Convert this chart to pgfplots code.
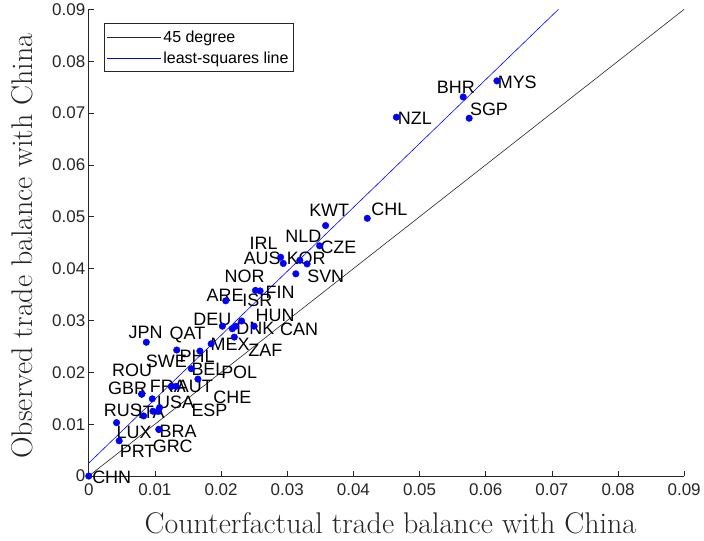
\documentclass[border=0pt]{standalone}
\usepackage{pgfplots}
\pgfplotsset{compat=1.18}
\usepackage{fontspec}
\newfontfamily\arial{Liberation Sans}
\definecolor{axgray}{gray}{0.15}
\definecolor{lsblue}{rgb}{0,0,1}
\tikzset{cl/.style={anchor=west, inner sep=0pt, font=\arial\fontsize{18}{21}\selectfont}}
\pgfplotstableread{
x y
0 0
0.0046 0.0068
0.0042 0.0103
0.0106 0.0090
0.0106 0.0090
0.0083 0.0116
0.0097 0.0125
0.0105 0.0125
0.0107 0.0132
0.0080 0.0158
0.0080 0.0158
0.0096 0.0149
0.0125 0.0173
0.0132 0.0173
0.0165 0.0187
0.0155 0.0207
0.0125 0.0173
0.0087 0.0258
0.0133 0.0243
0.0168 0.0241
0.0185 0.0255
0.0220 0.0268
0.0202 0.0289
0.0217 0.0284
0.0231 0.0299
0.0222 0.0289
0.0250 0.0289
0.0207 0.0338
0.0252 0.0358
0.0259 0.0357
0.0313 0.0390
0.0290 0.0422
0.0294 0.0410
0.0330 0.0409
0.0319 0.0416
0.0349 0.0444
0.0358 0.0483
0.0421 0.0497
0.0465 0.0692
0.0575 0.0690
0.0566 0.0731
0.0617 0.0762
}\pts
\begin{document}
\begin{tikzpicture}
\begin{axis}[name=ax, scale only axis, width=597pt, height=468pt,
 xmin=0, xmax=0.09, ymin=0, ymax=0.09,
 xtick={0,0.01,0.02,0.03,0.04,0.05,0.06,0.07,0.08,0.09},
 ytick={0,0.01,0.02,0.03,0.04,0.05,0.06,0.07,0.08,0.09},
 xticklabels={0,0.01,0.02,0.03,0.04,0.05,0.06,0.07,0.08,0.09},
 yticklabels={0,0.01,0.02,0.03,0.04,0.05,0.06,0.07,0.08,0.09},
 scaled ticks=false,
 axis lines=left, axis line style={-, axgray, line width=0.6pt},
 tick align=inside, major tick length=5pt, tick style={axgray, line width=0.6pt},
 ticklabel style={font=\arial\fontsize{17}{20}\selectfont, text=axgray},
 xticklabel style={yshift=-4pt},
 xlabel={Counterfactual trade balance with China},
 ylabel={Observed trade balance with China},
 label style={font=\fontsize{30}{34}\selectfont, text=axgray},
 xlabel style={at={(axis description cs:0.5067,-0.1015)}, anchor=center},
 ylabel style={at={(axis description cs:-0.1122,0.4925)}, anchor=center},
 clip=false,
 legend style={at={(0.0251,0.970)}, anchor=north west, draw=axgray, line width=0.6pt,
   font=\arial\fontsize{16}{19}\selectfont, inner xsep=3pt, inner ysep=5pt,
   cells={anchor=west}, row sep=4pt},
]
\addplot[color=axgray, line width=0.6pt,
  legend image code/.code={\draw[draw=axgray, line width=0.6pt] (4pt,0pt) -- (58pt,0pt);}]
  coordinates {(0,0) (0.09,0.09)};
\addlegendentry{45 degree}
\addplot[color=lsblue, line width=0.6pt,
  legend image code/.code={\draw[draw=lsblue, line width=0.6pt] (4pt,0pt) -- (58pt,0pt);}]
  coordinates {(0,0.0025) (0.071,0.09)};
\addlegendentry{least-squares line}
\addplot[only marks, mark=*, mark size=3.3pt, mark options={draw=blue, fill=blue}, forget plot] table[x=x,y=y] {\pts};
\node[cl] at (axis cs:0.0005,-0.0002) {CHN};
\node[cl] at (axis cs:0.00467,0.0048) {PRT};
\node[cl] at (axis cs:0.0042,0.0085) {LUX};
\node[cl] at (axis cs:0.00965,0.0058) {GRC};
\node[cl] at (axis cs:0.0107,0.0087) {BRA};
\node[cl] at (axis cs:0.00226,0.0127) {RUS};
\node[cl] at (axis cs:0.0074,0.0123) {ITA};
\node[cl] at (axis cs:0.0103,0.0142) {USA};
\node[cl] at (axis cs:0.0155,0.0127) {ESP};
\node[cl] at (axis cs:0.0029,0.0169) {GBR};
\node[cl] at (axis cs:0.0092,0.0173) {FRA};
\node[cl] at (axis cs:0.0133,0.0173) {AUT};
\node[cl] at (axis cs:0.0035,0.0204) {ROU};
\node[cl] at (axis cs:0.0188,0.0152) {CHE};
\node[cl] at (axis cs:0.0155,0.0206) {BEL};
\node[cl] at (axis cs:0.0200,0.0200) {POL};
\node[cl] at (axis cs:0.0086,0.0221) {SWE};
\node[cl] at (axis cs:0.0137,0.0231) {PHL};
\node[cl] at (axis cs:0.0060,0.0277) {JPN};
\node[cl] at (axis cs:0.0122,0.0273) {QAT};
\node[cl] at (axis cs:0.0184,0.0254) {MEX};
\node[cl] at (axis cs:0.0241,0.0242) {ZAF};
\node[cl] at (axis cs:0.0158,0.0302) {DEU};
\node[cl] at (axis cs:0.0223,0.0285) {DNK};
\node[cl] at (axis cs:0.0289,0.0283) {CAN};
\node[cl] at (axis cs:0.0252,0.0310) {HUN};
\node[cl] at (axis cs:0.0178,0.0348) {ARE};
\node[cl] at (axis cs:0.0232,0.0338) {ISR};
\node[cl] at (axis cs:0.0267,0.0354) {FIN};
\node[cl] at (axis cs:0.0205,0.0385) {NOR};
\node[cl] at (axis cs:0.0330,0.0385) {SVN};
\node[cl] at (axis cs:0.0234,0.0419) {AUS};
\node[cl] at (axis cs:0.0299,0.0419) {KOR};
\node[cl] at (axis cs:0.0243,0.0448) {IRL};
\node[cl] at (axis cs:0.0297,0.0462) {NLD};
\node[cl] at (axis cs:0.0350,0.0442) {CZE};
\node[cl] at (axis cs:0.0333,0.0512) {KWT};
\node[cl] at (axis cs:0.0427,0.0515) {CHL};
\node[cl] at (axis cs:0.0467,0.0690) {NZL};
\node[cl] at (axis cs:0.0576,0.0708) {SGP};
\node[cl] at (axis cs:0.0526,0.0750) {BHR};
\node[cl] at (axis cs:0.0618,0.0760) {MYS};
\end{axis}
\path ([xshift=-89pt,yshift=-65pt]ax.south west) rectangle ([xshift=18pt,yshift=9pt]ax.north east);
\end{tikzpicture}
\end{document}
